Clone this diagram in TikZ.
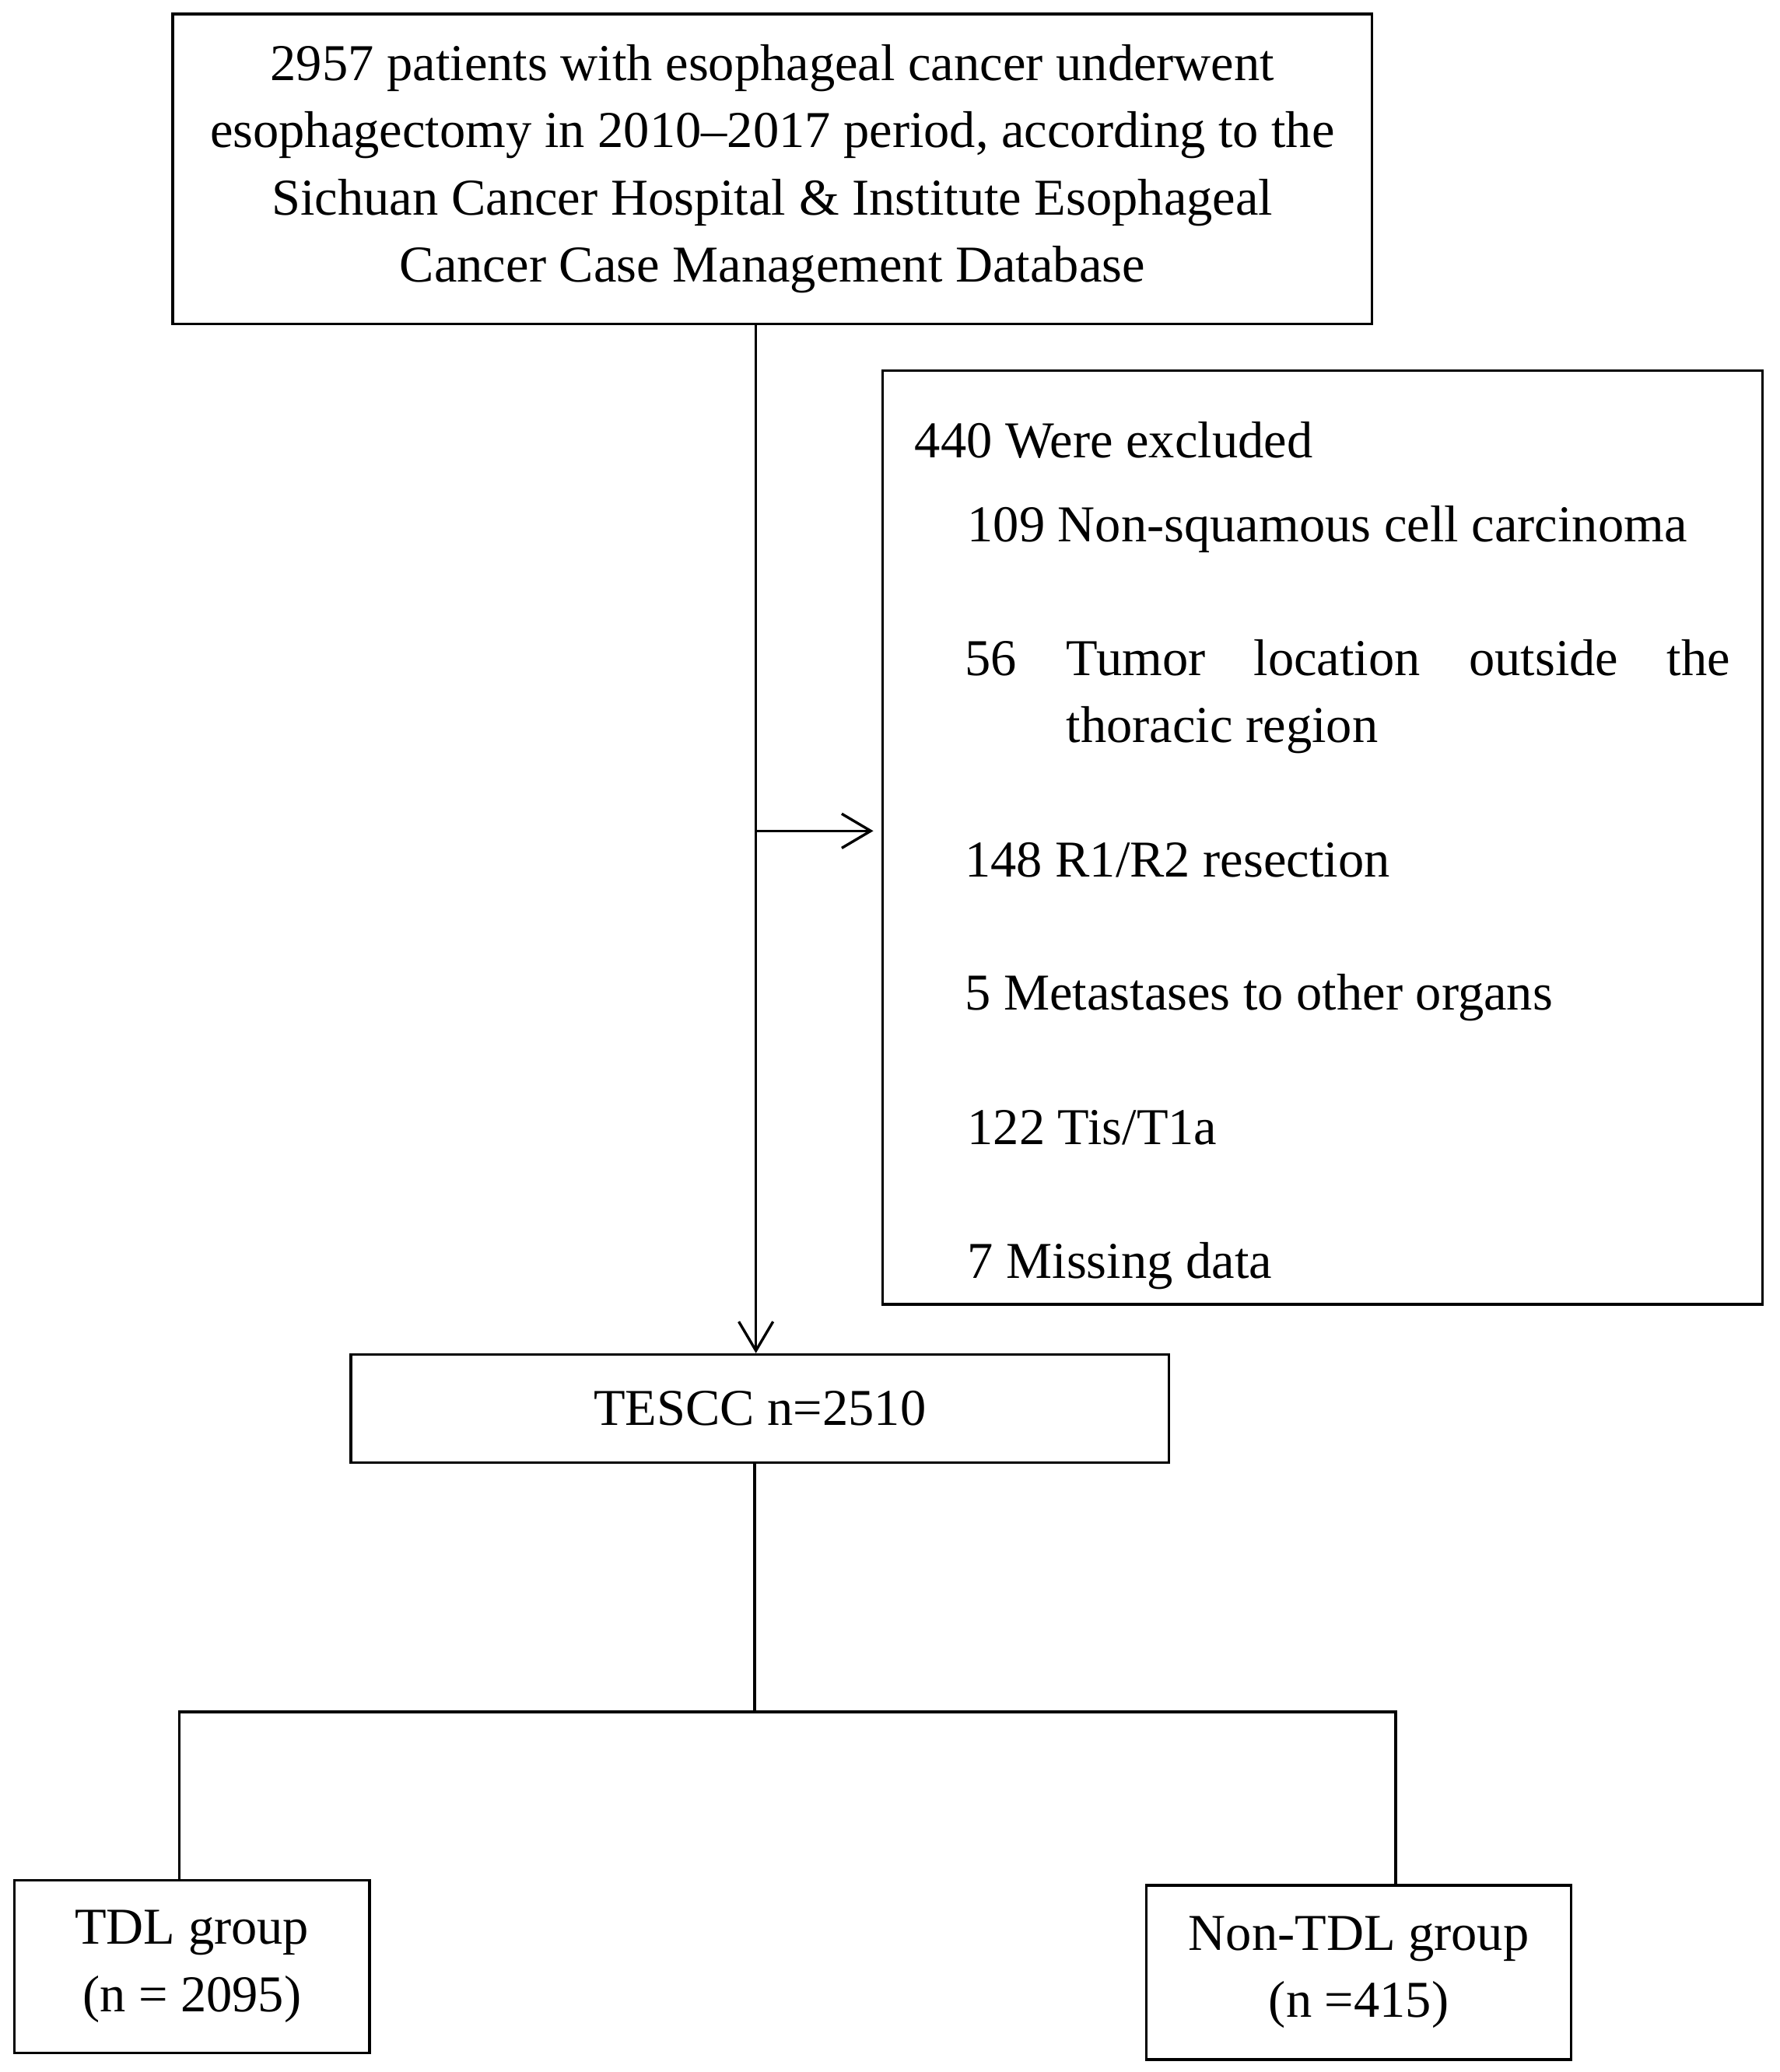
\documentclass[tikz,border=0pt]{standalone}
\usepackage{fontspec}
\setmainfont{Liberation Serif}
\usetikzlibrary{arrows.meta,positioning}

\newcommand\chartfont{\fontsize{19.6}{25.5}\selectfont\hyphenpenalty 10000\exhyphenpenalty 10000\relax}

\tikzset{
  txt/.style={font=\chartfont, inner sep=0pt},
  box/.style={draw, line width=1pt, txt, align=center},
  item/.style={txt, anchor=base west},
  flow/.style={line width=1pt, -{Straight Barb[length=11pt,width=13pt,line width=1pt]}}
}

\begin{document}
\begin{tikzpicture}[x=0.5pt, y=-0.5pt]
\useasboundingbox (0,0) rectangle (1349,1571);

\node[box, minimum width=454.5pt, minimum height=117.5pt] (top) at (585.5,128)
  {2957 patients with esophageal cancer underwent\\
   esophagectomy in 2010--2017 period, according to the\\
   Sichuan Cancer Hospital \& Institute Esophageal\\
   Cancer Case Management Database};
\node[box, minimum width=333.5pt, minimum height=354pt] (excl) at (1002.5,635) {};
\node[box, minimum width=310pt, minimum height=41pt] (tescc) at (576,1068) {TESCC n=2510};
\node[box, minimum width=134.5pt, minimum height=65.5pt] (tdl) at (145.5,1491) {TDL group\\(n = 2095)};
\node[box, minimum width=161pt, minimum height=66pt] (nontdl) at (1030,1495.5) {Non-TDL group\\(n =415)};

% exclusion list
\node[item] (ex0) at (693,347) {440 Were excluded};
\node[item] (ex1) at (733,411) {109 Non-squamous cell carcinoma};
\node[item] (ex2) at (731,512) {56};
\node[item, text width=251.5pt, align=justify] (ex2b) at (808,512) {Tumor location outside the thoracic region};
\node[item] (ex3) at (731,665) {148 R1/R2 resection};
\node[item] (ex4) at (731,766) {5 Metastases to other organs};
\node[item] (ex5) at (733,868) {122 Tis/T1a};
\node[item] (ex6) at (733,969) {7 Missing data};

\coordinate (split) at (573,630);
\coordinate (fork) at (572,1298);
\coordinate (lft) at (136,1298);
\coordinate (rgt) at (1058,1298);

\draw[flow] (top.south -| split) -- (tescc.north -| split);
\draw[flow, shorten >=3pt] (split) -- (excl.west |- split);
\draw[line width=1pt] (tescc.south -| fork) -- (fork);
\draw[line width=1pt] (tdl.north -| lft) -- (lft) -- (rgt) -- (nontdl.north -| rgt);

\end{tikzpicture}
\end{document}
